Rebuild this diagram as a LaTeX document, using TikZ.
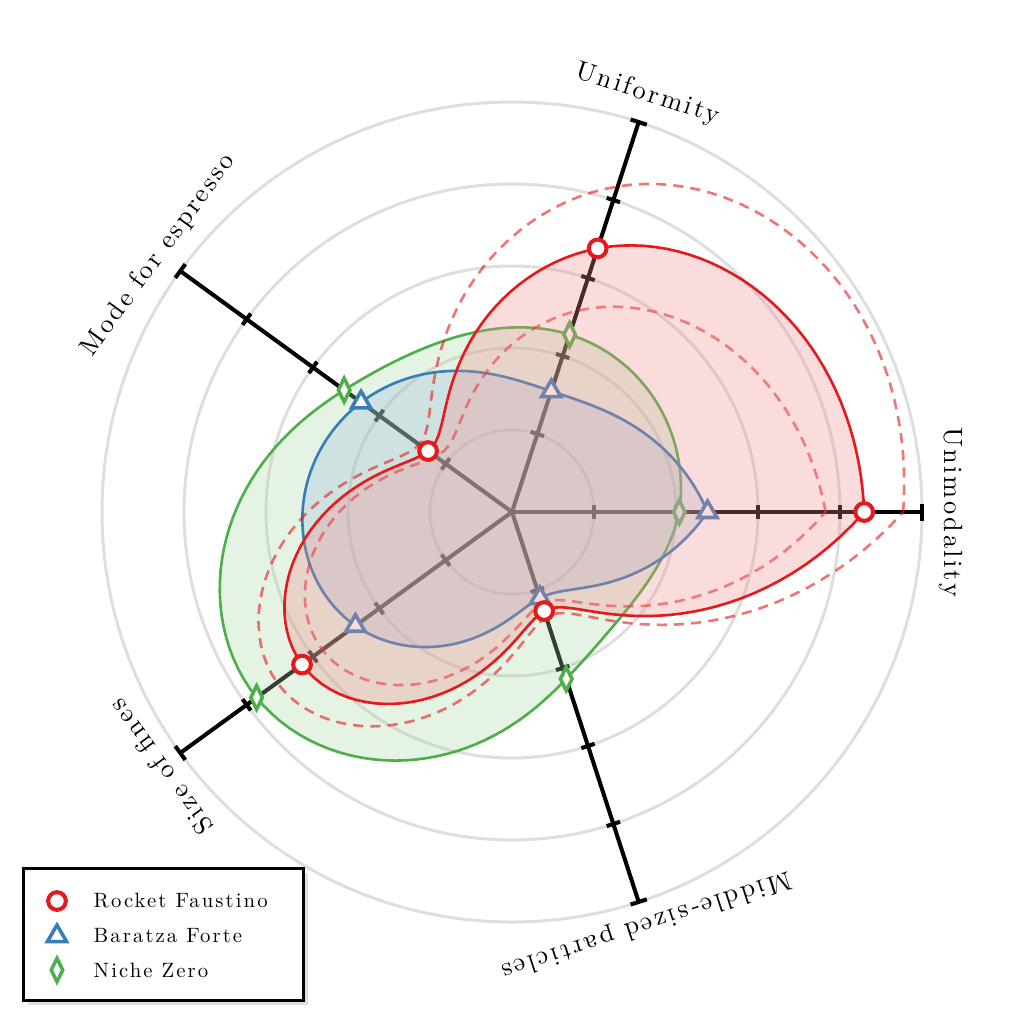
\documentclass[tikz,border=0pt]{standalone}
\usepackage{fontspec}
\usetikzlibrary{shapes.geometric,shadows}
\newfontfamily\labelfont{lmroman10-regular.otf}[LetterSpace=10]
\definecolor{rocket}{HTML}{E41A1C}
\definecolor{baratza}{HTML}{377EB8}
\definecolor{niche}{HTML}{4DAF4A}
\tikzset{
  ring/.style={draw=black!13, line width=0.85pt},
  spoke/.style={line width=1.15pt},
  rfill/.style={draw=rocket, line width=0.75pt, fill=rocket!50!white, fill opacity=0.3},
  bfill/.style={draw=baratza, line width=0.75pt, fill=baratza!50!white, fill opacity=0.3},
  gfill/.style={draw=niche, line width=0.75pt, fill=niche!50!white, fill opacity=0.3},
  band/.style={draw=rocket, draw opacity=0.6, line width=0.75pt, dash pattern=on 2.9pt off 2pt},
  rmark/.style={circle, draw=rocket, fill=white, line width=1.15pt, minimum size=0.177cm, inner sep=0pt},
  bmark/.style={regular polygon, regular polygon sides=3, draw=baratza, fill=white, line width=1pt, minimum size=0.22cm, inner sep=0pt},
  gmark/.style={diamond, draw=niche, fill=white, line width=1pt, minimum width=0.13cm, minimum height=0.25cm, inner sep=0pt},
  axlabel/.style={font=\labelfont\fontsize{7.5}{9}\selectfont},
  legtext/.style={anchor=west, inner sep=0pt, font=\labelfont\fontsize{5.9}{7}\selectfont},
}
\begin{document}
\begin{tikzpicture}
  \useasboundingbox (-5.12,-5.12) rectangle (5.12,5.12);
  % grid
  \foreach \k in {1,...,5} \draw[ring] (0,0) circle ({0.82*\k});
  \foreach \ang/\rad/\name in {0/4.39/Unimodality, 72/4.39/Uniformity, 144/4.37/Mode for espresso, 216/4.34/Size of fines, 288/4.34/Middle-sized particles}{
    \begin{scope}[rotate=\ang]
      \draw[spoke] (0,0) -- (4.1,0);
      \foreach \k in {0.82,1.64,2.46,3.28} \draw[spoke] (\k,-0.07) -- (\k,0.07);
      \draw[spoke] (4.1,-0.085) -- (4.1,0.085);
    \end{scope}
    \node[axlabel, rotate=\ang-90] (lab\ang) at (\ang:\rad) {\name};
  }
  % Niche Zero
  \path[gfill] (0:{4.1*0.408}) \foreach \a/\ra/\rb/\ma/\mb in {0/0.408/0.455/0/-0.164, 72/0.455/0.506/-0.164/0.681, 144/0.506/0.77/0.681/-1.280, 216/0.77/0.428/-1.280/0.803, 288/0.428/0.408/0.803/0}{
    -- plot[domain=0:1, samples=36, variable=\t] ({\a+72*\t}:{4.1*((1-\t)*\ra+\t*\rb+((1-\t)*(1-\t)*(1-\t)-(1-\t))*(\ma)/6+(\t*\t*\t-\t)*(\mb)/6)})} -- cycle;
  \foreach \v [count=\i from 0] in {0.408,0.455,0.506,0.77,0.428}
    \node[gmark] (nz\i) at ({72*\i}:{4.1*\v}) {};
  % Baratza Forte
  \path[bfill] (0:{4.1*0.477}) \foreach \a/\ra/\rb/\ma/\mb in {0/0.477/0.31/0/0.511, 72/0.31/0.455/0.511/-0.174, 144/0.455/0.472/-0.174/-0.585, 216/0.472/0.221/-0.585/0.907, 288/0.221/0.477/0.907/0}{
    -- plot[domain=0:1, samples=36, variable=\t] ({\a+72*\t}:{4.1*((1-\t)*\ra+\t*\rb+((1-\t)*(1-\t)*(1-\t)-(1-\t))*(\ma)/6+(\t*\t*\t-\t)*(\mb)/6)})} -- cycle;
  \foreach \v [count=\i from 0] in {0.477,0.31,0.455,0.472,0.221}
    \node[bmark] (bf\i) at ({72*\i}:{4.1*\v}) {};
  % Rocket Faustino, band
  \path[band] (0:{4.1*0.954}) \foreach \a/\ra/\rb/\ma/\mb in {0/0.954/0.835/0/-1.256, 72/0.835/0.28/-1.256/2.408, 144/0.28/0.708/2.408/-2.476, 216/0.708/0.27/-2.476/2.302, 288/0.27/0.954/2.302/0}{
    -- plot[domain=0:1, samples=36, variable=\t] ({\a+72*\t}:{4.1*((1-\t)*\ra+\t*\rb+((1-\t)*(1-\t)*(1-\t)-(1-\t))*(\ma)/6+(\t*\t*\t-\t)*(\mb)/6)})} -- cycle;
  \path[band] (0:{4.1*0.765}) \foreach \a/\ra/\rb/\ma/\mb in {0/0.765/0.516/0/-0.433, 72/0.516/0.23/-0.433/1.509, 144/0.23/0.572/1.509/-1.836, 216/0.572/0.235/-1.836/1.759, 288/0.235/0.765/1.759/0}{
    -- plot[domain=0:1, samples=36, variable=\t] ({\a+72*\t}:{4.1*((1-\t)*\ra+\t*\rb+((1-\t)*(1-\t)*(1-\t)-(1-\t))*(\ma)/6+(\t*\t*\t-\t)*(\mb)/6)})} -- cycle;
  % Rocket Faustino
  \path[rfill] (0:{4.1*0.859}) \foreach \a/\ra/\rb/\ma/\mb in {0/0.859/0.676/0/-0.847, 72/0.676/0.253/-0.847/1.948, 144/0.253/0.633/1.948/-2.128, 216/0.633/0.254/-2.128/2.008, 288/0.254/0.859/2.008/0}{
    -- plot[domain=0:1, samples=36, variable=\t] ({\a+72*\t}:{4.1*((1-\t)*\ra+\t*\rb+((1-\t)*(1-\t)*(1-\t)-(1-\t))*(\ma)/6+(\t*\t*\t-\t)*(\mb)/6)})} -- cycle;
  \foreach \v [count=\i from 0] in {0.859,0.676,0.253,0.633,0.254}
    \node[rmark] (rf\i) at ({72*\i}:{4.1*\v}) {};
  % legend
  \node[draw, line width=0.95pt, fill=white, minimum width=2.8cm, minimum height=1.32cm,
        drop shadow={shadow xshift=0.05cm, shadow yshift=-0.04cm, opacity=0.25}] (legend) at (-3.485,-4.225) {};
  \node[rmark] (legrf) at (-4.55,-3.89) {};
  \node[legtext] (txtrf) at (-4.19,-3.89) {Rocket Faustino};
  \node[bmark] (legbf) at (-4.55,-4.24) {};
  \node[legtext] (txtbf) at (-4.19,-4.24) {Baratza Forte};
  \node[gmark] (legnz) at (-4.55,-4.58) {};
  \node[legtext] (txtnz) at (-4.19,-4.58) {Niche Zero};
\end{tikzpicture}
\end{document}
